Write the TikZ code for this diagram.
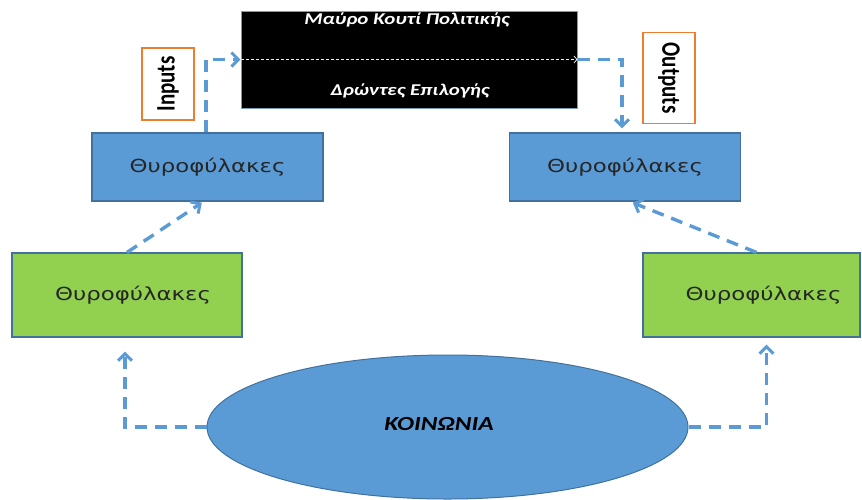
\documentclass[tikz,border=0pt]{standalone}
\usepackage{fontspec}
\usepackage{graphicx}
\usetikzlibrary{arrows.meta,shapes.geometric}
\setmainfont{Carlito}
\newfontfamily\boxfont{DejaVu Sans}
\newfontfamily\calib{Carlito}
\definecolor{skyfill}{HTML}{5B9BD5}
\definecolor{skyline}{HTML}{41719C}
\definecolor{leaf}{HTML}{92D050}
\definecolor{tangerine}{HTML}{ED7D31}
% horizontally widened lettering
\newcommand\widetext[1]{\scalebox{1.27}[1]{#1}}
\newcommand\tallrot[1]{\scalebox{1}[1.27]{#1}}
\tikzset{
  bluebox/.style={draw=skyline, line width=1.2pt, fill=skyfill, minimum width=231pt, minimum height=68pt, inner sep=0pt},
  greenbox/.style={draw=skyline, line width=1.2pt, fill=leaf, inner sep=0pt},
  tagbox/.style={draw=tangerine, line width=1.2pt, fill=white, inner sep=0pt, minimum width=52pt},
  gatetext/.style={font=\boxfont\fontsize{18}{20}\selectfont, text=black!85},
  tagtext/.style={font=\calib\bfseries\fontsize{21}{22}\selectfont},
  darktext/.style={font=\calib\bfseries\itshape\fontsize{16.5}{18}\selectfont, text=white},
  flow/.style={draw=skyfill, line width=3.4pt, dash pattern=on 12pt off 8pt,
    -{Straight Barb[length=7pt,width=14pt,line width=3pt]}},
  whiteflow/.style={draw=white!85!gray, line width=0.8pt, dash pattern=on 3pt off 2pt,
    -{Straight Barb[length=3pt,width=7pt,line width=0.8pt]}},
}
\begin{document}
\begin{tikzpicture}[x=1pt,y=-1pt]
\useasboundingbox (0,0) rectangle (862,499);

% black box
\node[draw=skyline!70, line width=1pt, fill=black, minimum width=336pt, minimum height=97pt, inner sep=0pt] (bb) at (409,59.5) {};
\node[darktext] (bbtop) at (407,20) {\widetext{Μαύρο Κουτί Πολιτικής}};
\node[darktext] (bbbot) at (410,91) {\widetext{Δρώντες Επιλογής}};

% input / output tags
\node[tagbox, minimum height=72pt] (inp) at (168,84) {};
\node[tagtext, rotate=90] (inptext) at (inp.center) {\tallrot{Inputs}};
\node[tagbox, minimum height=91pt] (outp) at (669,78) {};
\node[tagtext, rotate=-90] (outptext) at (outp.center) {\tallrot{Outputs}};

% gatekeepers
\node[bluebox] (bl) at (207.5,167) {};
\node[gatetext] at (bl.center) {\widetext{Θυροφύλακες}};
\node[bluebox] (br) at (625,167) {};
\node[gatetext] at (br.center) {\widetext{Θυροφύλακες}};
\node[greenbox, minimum width=230pt, minimum height=84pt] (gl) at (127,295) {};
\node[gatetext] at ([xshift=6pt]gl.center) {\widetext{Θυροφύλακες}};
\node[greenbox, minimum width=217pt, minimum height=84pt] (gr) at (751.5,295) {};
\node[gatetext] at ([xshift=12pt]gr.center) {\widetext{Θυροφύλακες}};

% society
\node[ellipse, draw=skyline, line width=1pt, fill=skyfill, minimum width=481pt, minimum height=144pt, inner sep=0pt] (ell) at (447.5,427) {};
\node[font=\calib\bfseries\itshape\fontsize{20}{22}\selectfont] at (439,424) {\widetext{ΚΟΙΝΩΝΙΑ}};

% connectors
\draw[flow, shorten >=14pt] (ell.west) -| ([xshift=-2pt]gl.south);
\draw[flow, shorten >=7pt] (ell.east) -| ([xshift=15pt]gr.south);
\draw[flow, shorten >=2pt] (gl.north) -- ([xshift=-4pt]bl.south);
\draw[flow, shorten >=3pt] ([xshift=5pt]gr.north) -- ([xshift=5pt]br.south);
\draw[flow] ([xshift=-1.5pt]bl.north) |- (bb.west);
\draw[flow, shorten >=4pt] (bb.east) -| ([xshift=-3pt]br.north);
\draw[whiteflow] (bb.west) -- (bb.east);
\end{tikzpicture}
\end{document}
